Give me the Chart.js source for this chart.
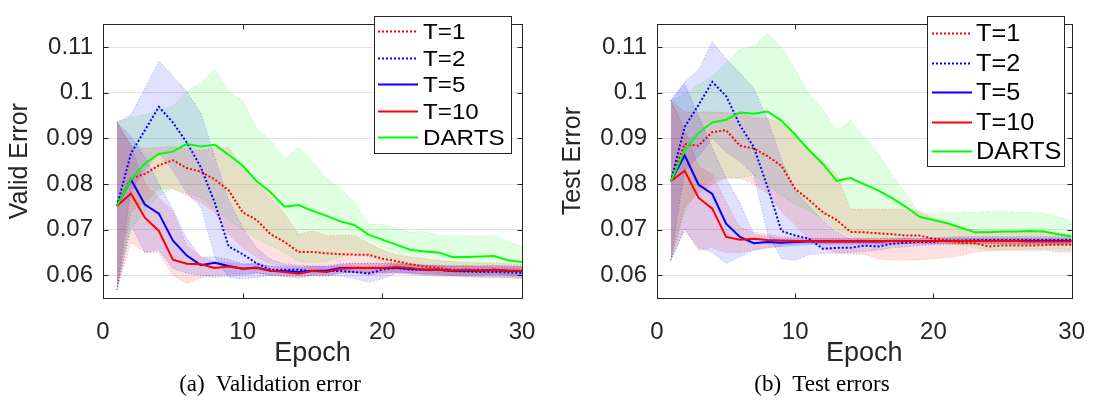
<!DOCTYPE html>
<html lang="en">

<head>
    <meta charset="UTF-8">
    <title>Valid / Test error vs epoch</title>
    <script src="https://cdn.jsdelivr.net/npm/chart.js"></script>
    <style>
        body { margin: 0; background: #fff; }
        .page { position: relative; width: 1097px; height: 403px; overflow: hidden; }
        .panel { position: absolute; top: 0; }
        .caption {
            position: absolute; top: 369px; transform: translateX(-50%);
            font-family: "Liberation Serif", "Times New Roman", serif; font-size: 23px;
            line-height: 30px; color: #000; white-space: pre;
        }
    </style>
</head>

<body>
    <div class="page">
        <canvas id="validChart" class="panel" style="left:0" width="548" height="370"></canvas>
        <canvas id="testChart" class="panel" style="left:548px" width="549" height="370"></canvas>
        <div class="caption" style="left:270px">(a)  Validation error</div>
        <div class="caption" style="left:822px">(b)  Test errors</div>
    </div>

    <script>
        // ---- data ----
        const epochs = [1, 2, 3, 4, 5, 6, 7, 8, 9, 10, 11, 12, 13, 14, 15, 16, 17, 18, 19, 20, 21, 22, 23, 24, 25, 26, 27, 28, 29, 30];
        const xTicks = [0, 10, 20, 30];
        const yTicks = [0.06, 0.07, 0.08, 0.09, 0.1, 0.11];
        const yTickLabels = ['0.06', '0.07', '0.08', '0.09', '0.1', '0.11'];
        const seriesLabels = ['T=1', 'T=2', 'T=5', 'T=10', 'DARTS'];

        // validation error (mean, upper, lower)
        const vT1 = [0.0752, 0.0812, 0.0822, 0.0841, 0.0852, 0.0835, 0.0827, 0.0810, 0.0786, 0.0738, 0.0721, 0.0690, 0.0673, 0.0651, 0.0651, 0.0648, 0.0646, 0.0645, 0.0645, 0.0636, 0.0631, 0.0624, 0.0619, 0.0616, 0.0612, 0.0612, 0.0612, 0.0610, 0.0610, 0.0609];
        const vT1Hi = [0.0935, 0.0884, 0.0878, 0.0880, 0.0882, 0.0876, 0.0873, 0.0878, 0.0880, 0.0835, 0.0800, 0.0770, 0.0735, 0.0690, 0.0697, 0.0687, 0.0687, 0.0687, 0.0670, 0.0655, 0.0645, 0.0640, 0.0636, 0.0632, 0.0630, 0.0628, 0.0627, 0.0627, 0.0625, 0.0623];
        const vT1Lo = [0.0568, 0.0740, 0.0760, 0.0790, 0.0790, 0.0775, 0.0760, 0.0738, 0.0690, 0.0660, 0.0640, 0.0625, 0.0620, 0.0615, 0.0612, 0.0612, 0.0610, 0.0606, 0.0600, 0.0604, 0.0606, 0.0605, 0.0603, 0.0600, 0.0598, 0.0596, 0.0595, 0.0595, 0.0594, 0.0592];
        const vT2 = [0.0752, 0.0867, 0.0918, 0.0969, 0.0935, 0.0891, 0.0837, 0.0759, 0.0663, 0.0646, 0.0626, 0.0612, 0.0612, 0.0612, 0.0609, 0.0609, 0.0609, 0.0607, 0.0604, 0.0612, 0.0616, 0.0612, 0.0612, 0.0612, 0.0609, 0.0608, 0.0607, 0.0607, 0.0606, 0.0605];
        const vT2Hi = [0.0935, 0.0952, 0.1010, 0.1070, 0.1037, 0.1003, 0.0956, 0.0860, 0.0765, 0.0704, 0.0660, 0.0635, 0.0625, 0.0622, 0.0620, 0.0620, 0.0620, 0.0620, 0.0618, 0.0622, 0.0625, 0.0623, 0.0622, 0.0621, 0.0620, 0.0620, 0.0618, 0.0618, 0.0617, 0.0616];
        const vT2Lo = [0.0568, 0.0785, 0.0830, 0.0868, 0.0830, 0.0780, 0.0750, 0.0640, 0.0595, 0.0592, 0.0595, 0.0600, 0.0600, 0.0600, 0.0600, 0.0600, 0.0598, 0.0592, 0.0585, 0.0592, 0.0604, 0.0602, 0.0600, 0.0598, 0.0598, 0.0597, 0.0596, 0.0596, 0.0595, 0.0594];
        const vT5 = [0.0752, 0.0810, 0.0755, 0.0735, 0.0676, 0.0643, 0.0622, 0.0627, 0.0620, 0.0614, 0.0617, 0.0610, 0.0609, 0.0607, 0.0610, 0.0610, 0.0616, 0.0616, 0.0616, 0.0616, 0.0616, 0.0614, 0.0612, 0.0612, 0.0610, 0.0610, 0.0610, 0.0612, 0.0610, 0.0609];
        const vT5Hi = [0.0935, 0.0905, 0.0860, 0.0800, 0.0745, 0.0680, 0.0640, 0.0640, 0.0635, 0.0625, 0.0625, 0.0620, 0.0620, 0.0618, 0.0620, 0.0620, 0.0625, 0.0626, 0.0626, 0.0626, 0.0625, 0.0624, 0.0622, 0.0621, 0.0620, 0.0620, 0.0620, 0.0621, 0.0620, 0.0619];
        const vT5Lo = [0.0568, 0.0710, 0.0650, 0.0655, 0.0615, 0.0605, 0.0600, 0.0595, 0.0598, 0.0600, 0.0605, 0.0600, 0.0598, 0.0596, 0.0600, 0.0600, 0.0606, 0.0606, 0.0606, 0.0606, 0.0606, 0.0604, 0.0602, 0.0602, 0.0600, 0.0600, 0.0600, 0.0602, 0.0600, 0.0599];
        const vT10 = [0.0752, 0.0779, 0.0726, 0.0697, 0.0634, 0.0625, 0.0624, 0.0616, 0.0619, 0.0614, 0.0616, 0.0610, 0.0607, 0.0603, 0.0609, 0.0607, 0.0614, 0.0616, 0.0616, 0.0616, 0.0618, 0.0616, 0.0612, 0.0612, 0.0610, 0.0612, 0.0610, 0.0612, 0.0610, 0.0610];
        const vT10Hi = [0.0935, 0.0885, 0.0800, 0.0770, 0.0740, 0.0665, 0.0640, 0.0630, 0.0628, 0.0624, 0.0626, 0.0620, 0.0617, 0.0614, 0.0619, 0.0617, 0.0624, 0.0626, 0.0626, 0.0626, 0.0628, 0.0626, 0.0622, 0.0622, 0.0620, 0.0622, 0.0620, 0.0622, 0.0620, 0.0620];
        const vT10Lo = [0.0568, 0.0672, 0.0650, 0.0650, 0.0600, 0.0582, 0.0595, 0.0600, 0.0602, 0.0603, 0.0605, 0.0600, 0.0597, 0.0593, 0.0599, 0.0597, 0.0604, 0.0606, 0.0606, 0.0606, 0.0608, 0.0606, 0.0602, 0.0602, 0.0600, 0.0602, 0.0600, 0.0602, 0.0600, 0.0600];
        const vDarts = [0.0752, 0.0810, 0.0845, 0.0866, 0.0871, 0.0888, 0.0882, 0.0886, 0.0864, 0.0840, 0.0806, 0.0782, 0.0750, 0.0754, 0.0741, 0.0730, 0.0718, 0.0710, 0.0689, 0.0678, 0.0667, 0.0656, 0.0652, 0.0650, 0.0640, 0.0640, 0.0641, 0.0642, 0.0633, 0.0629];
        const vDartsHi = [0.0935, 0.0946, 0.0952, 0.0962, 0.0970, 0.1003, 0.1022, 0.1051, 0.1003, 0.0983, 0.0922, 0.0895, 0.0854, 0.0880, 0.0847, 0.0813, 0.0790, 0.0759, 0.0711, 0.0711, 0.0704, 0.0694, 0.0696, 0.0687, 0.0687, 0.0687, 0.0684, 0.0687, 0.0673, 0.0663];
        const vDartsLo = [0.0568, 0.0700, 0.0740, 0.0775, 0.0790, 0.0780, 0.0770, 0.0745, 0.0720, 0.0700, 0.0680, 0.0665, 0.0650, 0.0630, 0.0628, 0.0630, 0.0640, 0.0650, 0.0640, 0.0630, 0.0620, 0.0615, 0.0610, 0.0605, 0.0605, 0.0600, 0.0602, 0.0600, 0.0598, 0.0595];

        // test error (mean, upper, lower)
        const tT1 = [0.0806, 0.0888, 0.0884, 0.0914, 0.0918, 0.0884, 0.0878, 0.0861, 0.0840, 0.0789, 0.0765, 0.0738, 0.0721, 0.0695, 0.0694, 0.0692, 0.0690, 0.0687, 0.0687, 0.0680, 0.0676, 0.0671, 0.0670, 0.0663, 0.0665, 0.0665, 0.0665, 0.0666, 0.0667, 0.0667];
        const tT1Hi = [0.0983, 0.0958, 0.0958, 0.0958, 0.0956, 0.0956, 0.0945, 0.0945, 0.0935, 0.0910, 0.0875, 0.0850, 0.0820, 0.0745, 0.0745, 0.0745, 0.0745, 0.0745, 0.0740, 0.0725, 0.0710, 0.0703, 0.0700, 0.0695, 0.0695, 0.0695, 0.0695, 0.0695, 0.0693, 0.0690];
        const tT1Lo = [0.0633, 0.0750, 0.0780, 0.0800, 0.0813, 0.0813, 0.0800, 0.0780, 0.0740, 0.0710, 0.0680, 0.0660, 0.0650, 0.0646, 0.0646, 0.0636, 0.0633, 0.0633, 0.0634, 0.0636, 0.0639, 0.0643, 0.0651, 0.0653, 0.0655, 0.0655, 0.0655, 0.0655, 0.0651, 0.0651];
        const tT2 = [0.0806, 0.0925, 0.0973, 0.1024, 0.0993, 0.0929, 0.0881, 0.0793, 0.0697, 0.0687, 0.0680, 0.0658, 0.0660, 0.0660, 0.0665, 0.0663, 0.0669, 0.0671, 0.0673, 0.0673, 0.0676, 0.0676, 0.0677, 0.0677, 0.0677, 0.0677, 0.0677, 0.0677, 0.0677, 0.0677];
        const tT2Hi = [0.0983, 0.1024, 0.1050, 0.1112, 0.1075, 0.1044, 0.1010, 0.0942, 0.0854, 0.0786, 0.0752, 0.0720, 0.0695, 0.0680, 0.0678, 0.0675, 0.0678, 0.0680, 0.0680, 0.0682, 0.0684, 0.0685, 0.0685, 0.0685, 0.0685, 0.0685, 0.0685, 0.0685, 0.0685, 0.0685];
        const tT2Lo = [0.0633, 0.0830, 0.0860, 0.0900, 0.0870, 0.0850, 0.0820, 0.0690, 0.0636, 0.0633, 0.0645, 0.0648, 0.0648, 0.0650, 0.0652, 0.0655, 0.0660, 0.0662, 0.0665, 0.0666, 0.0668, 0.0668, 0.0668, 0.0668, 0.0668, 0.0668, 0.0668, 0.0668, 0.0668, 0.0668];
        const tT5 = [0.0806, 0.0863, 0.0799, 0.0778, 0.0713, 0.0684, 0.0670, 0.0673, 0.0671, 0.0673, 0.0674, 0.0674, 0.0674, 0.0674, 0.0674, 0.0674, 0.0675, 0.0675, 0.0675, 0.0675, 0.0675, 0.0675, 0.0675, 0.0675, 0.0675, 0.0675, 0.0675, 0.0675, 0.0675, 0.0675];
        const tT5Hi = [0.0983, 0.1020, 0.0950, 0.0880, 0.0813, 0.0759, 0.0690, 0.0685, 0.0680, 0.0680, 0.0680, 0.0680, 0.0680, 0.0680, 0.0680, 0.0680, 0.0681, 0.0681, 0.0681, 0.0681, 0.0681, 0.0681, 0.0681, 0.0681, 0.0681, 0.0681, 0.0681, 0.0681, 0.0681, 0.0681];
        const tT5Lo = [0.0633, 0.0700, 0.0660, 0.0650, 0.0626, 0.0640, 0.0655, 0.0660, 0.0663, 0.0665, 0.0668, 0.0668, 0.0668, 0.0668, 0.0668, 0.0668, 0.0669, 0.0669, 0.0669, 0.0669, 0.0669, 0.0669, 0.0669, 0.0669, 0.0669, 0.0669, 0.0669, 0.0669, 0.0669, 0.0669];
        const tT10 = [0.0806, 0.0829, 0.0770, 0.0746, 0.0684, 0.0678, 0.0680, 0.0677, 0.0676, 0.0675, 0.0675, 0.0675, 0.0675, 0.0675, 0.0675, 0.0675, 0.0675, 0.0675, 0.0675, 0.0675, 0.0675, 0.0675, 0.0675, 0.0675, 0.0675, 0.0675, 0.0674, 0.0674, 0.0674, 0.0674];
        const tT10Hi = [0.0983, 0.0920, 0.0840, 0.0820, 0.0760, 0.0705, 0.0695, 0.0690, 0.0685, 0.0682, 0.0681, 0.0681, 0.0681, 0.0681, 0.0681, 0.0681, 0.0681, 0.0681, 0.0681, 0.0681, 0.0681, 0.0681, 0.0681, 0.0681, 0.0681, 0.0681, 0.0680, 0.0680, 0.0680, 0.0680];
        const tT10Lo = [0.0633, 0.0700, 0.0655, 0.0660, 0.0650, 0.0650, 0.0655, 0.0660, 0.0665, 0.0668, 0.0669, 0.0669, 0.0669, 0.0669, 0.0669, 0.0669, 0.0669, 0.0669, 0.0669, 0.0669, 0.0669, 0.0669, 0.0669, 0.0669, 0.0669, 0.0669, 0.0668, 0.0668, 0.0668, 0.0668];
        const tDarts = [0.0806, 0.0874, 0.0912, 0.0935, 0.0941, 0.0957, 0.0954, 0.0959, 0.0939, 0.0908, 0.0874, 0.0844, 0.0807, 0.0813, 0.0799, 0.0786, 0.0769, 0.0750, 0.0728, 0.0721, 0.0714, 0.0704, 0.0694, 0.0694, 0.0696, 0.0696, 0.0697, 0.0696, 0.0690, 0.0685];
        const tDartsHi = [0.0983, 0.0997, 0.1017, 0.1037, 0.1065, 0.1095, 0.1102, 0.1130, 0.1099, 0.1051, 0.0997, 0.0963, 0.0915, 0.0940, 0.0901, 0.0867, 0.0820, 0.0779, 0.0735, 0.0735, 0.0735, 0.0738, 0.0738, 0.0740, 0.0740, 0.0738, 0.0738, 0.0735, 0.0728, 0.0718];
        const tDartsLo = [0.0633, 0.0740, 0.0790, 0.0810, 0.0813, 0.0813, 0.0820, 0.0795, 0.0775, 0.0755, 0.0740, 0.0725, 0.0700, 0.0685, 0.0675, 0.0670, 0.0675, 0.0680, 0.0685, 0.0680, 0.0670, 0.0665, 0.0660, 0.0655, 0.0655, 0.0655, 0.0657, 0.0657, 0.0657, 0.0655];

        // ---- styles ----
        const RED = '#ff0000', BLUE = '#0000ff', GREEN = '#00ff00';
        const styles = [
            { color: RED, band: 'rgba(255,0,0,0.12)', edge: 'rgba(255,0,0,0.3)', dash: [2, 2] },
            { color: BLUE, band: 'rgba(0,0,255,0.12)', edge: 'rgba(0,0,255,0.3)', dash: [2, 2] },
            { color: BLUE, band: 'rgba(0,0,255,0.12)', edge: 'rgba(0,0,255,0.3)', dash: [] },
            { color: RED, band: 'rgba(255,0,0,0.12)', edge: 'rgba(255,0,0,0.3)', dash: [] },
            { color: GREEN, band: 'rgba(0,255,0,0.12)', edge: 'rgba(0,200,0,0.3)', dash: [] }
        ];

        Chart.defaults.font.family = '"Liberation Sans", Arial, Helvetica, sans-serif';
        Chart.defaults.color = '#262626';

        const pts = arr => epochs.map((e, i) => ({ x: e, y: arr[i] }));

        function buildDatasets(means, his, los) {
            const ds = [];
            means.forEach((m, i) => {
                const s = styles[i];
                ds.push({ data: pts(his[i]), fill: '+1', backgroundColor: s.band, borderColor: s.edge,
                    borderWidth: 1, borderDash: [1, 2], pointRadius: 0, order: 20 + i });
                ds.push({ data: pts(los[i]), fill: false, borderColor: s.edge,
                    borderWidth: 1, borderDash: [1, 2], pointRadius: 0, order: 20 + i });
            });
            means.forEach((m, i) => {
                const s = styles[i];
                ds.push({ label: seriesLabels[i], isMain: true, data: pts(m), fill: false,
                    borderColor: s.color, borderWidth: 2, borderDash: s.dash, pointRadius: 0,
                    order: 10 - i });
            });
            return ds;
        }

        // box, inward tick marks and the legend inside the axes
        const framePlugin = {
            id: 'frame',
            afterDatasetsDraw(chart, args, opts) {
                const { ctx, chartArea: a, scales } = chart;
                const xs = scales.x, ys = scales.y;
                ctx.save();
                ctx.setLineDash([]);
                ctx.strokeStyle = '#262626';
                ctx.lineWidth = 1;
                const L = Math.round(a.left) + 0.5, R = Math.round(a.right) + 0.5;
                const T = Math.round(a.top) + 0.5, B = Math.round(a.bottom) + 0.5;
                ctx.strokeRect(L, T, R - L, B - T);
                ctx.beginPath();
                xs.ticks.forEach(t => {
                    const px = Math.round(xs.getPixelForValue(t.value)) + 0.5;
                    ctx.moveTo(px, B); ctx.lineTo(px, B - 5);
                    ctx.moveTo(px, T); ctx.lineTo(px, T + 5);
                });
                ys.ticks.forEach(t => {
                    const py = Math.round(ys.getPixelForValue(t.value)) + 0.5;
                    ctx.moveTo(L, py); ctx.lineTo(L + 5, py);
                    ctx.moveTo(R, py); ctx.lineTo(R - 5, py);
                });
                ctx.stroke();

                // legend
                const lg = opts.legend;
                ctx.fillStyle = '#fff';
                ctx.fillRect(lg.x, lg.y, lg.w, lg.h);
                ctx.strokeStyle = '#262626';
                ctx.strokeRect(lg.x + 0.5, lg.y + 0.5, lg.w, lg.h);
                const mains = chart.data.datasets.filter(d => d.isMain);
                ctx.font = lg.fontSize + 'px "Liberation Sans", Arial, sans-serif';
                ctx.textBaseline = 'middle';
                mains.forEach((d, i) => {
                    const yy = Math.round(lg.row0 + i * lg.rowStep) + 0.5;
                    ctx.strokeStyle = d.borderColor;
                    ctx.lineWidth = 2;
                    ctx.setLineDash(d.borderDash);
                    ctx.beginPath();
                    ctx.moveTo(lg.x + lg.line0, yy);
                    ctx.lineTo(lg.x + lg.line1, yy);
                    ctx.stroke();
                    ctx.setLineDash([]);
                    ctx.fillStyle = '#000';
                    ctx.save();
                    ctx.translate(lg.x + lg.text0, yy + 1);
                    ctx.scale(1.1, 1);
                    ctx.fillText(d.label, 0, 0);
                    ctx.restore();
                });
                ctx.restore();
            }
        };

        function makeChart(id, title, means, his, los, cfg) {
            return new Chart(document.getElementById(id), {
                type: 'line',
                data: { datasets: buildDatasets(means, his, los) },
                options: {
                    responsive: false,
                    devicePixelRatio: 1,
                    animation: false,
                    layout: { padding: { left: 0, right: cfg.padRight, top: 5, bottom: 0 } },
                    plugins: {
                        legend: { display: false },
                        tooltip: { enabled: false },
                        frame: { legend: cfg.legend }
                    },
                    scales: {
                        x: {
                            type: 'linear', min: 0, max: 30,
                            afterBuildTicks: s => { s.ticks = xTicks.map(v => ({ value: v })); },
                            afterFit: s => { s.height = 72; },
                            grid: { display: false },
                            border: { display: false },
                            ticks: { font: { size: 24 }, padding: 12, maxRotation: 0, color: '#262626' },
                            title: { display: true, text: 'Epoch', font: { size: 27 }, padding: { top: 0, bottom: 0 }, color: '#262626' }
                        },
                        y: {
                            type: 'linear', min: 0.055, max: 0.115,
                            afterBuildTicks: s => { s.ticks = yTicks.map(v => ({ value: v })); },
                            afterFit: s => { s.width = cfg.yWidth; },
                            grid: { color: '#e3e3e3', drawTicks: false },
                            border: { display: false },
                            ticks: {
                                font: { size: 24 }, padding: 10, color: '#262626',
                                callback: v => yTickLabels[yTicks.indexOf(v)]
                            },
                            title: { display: true, text: title, font: { size: 25 }, padding: { top: cfg.titlePad, bottom: 0 }, color: '#262626' }
                        }
                    }
                },
                plugins: [framePlugin]
            });
        }

        makeChart('validChart', 'Valid Error',
            [vT1, vT2, vT5, vT10, vDarts],
            [vT1Hi, vT2Hi, vT5Hi, vT10Hi, vDartsHi],
            [vT1Lo, vT2Lo, vT5Lo, vT10Lo, vDartsLo],
            { padRight: 26, yWidth: 103, titlePad: 5,
              legend: { x: 374, y: 16, w: 137, h: 137, row0: 31, rowStep: 26.5, line0: 4, line1: 44, text0: 49, fontSize: 22 } });

        makeChart('testChart', 'Test Error',
            [tT1, tT2, tT5, tT10, tDarts],
            [tT1Hi, tT2Hi, tT5Hi, tT10Hi, tDartsHi],
            [tT1Lo, tT2Lo, tT5Lo, tT10Lo, tDartsLo],
            { padRight: 22, yWidth: 109, titlePad: 10,
              legend: { x: 379, y: 16, w: 137, h: 150, row0: 33, rowStep: 29.5, line0: 5, line1: 45, text0: 49, fontSize: 23 } });
    </script>
</body>

</html>
